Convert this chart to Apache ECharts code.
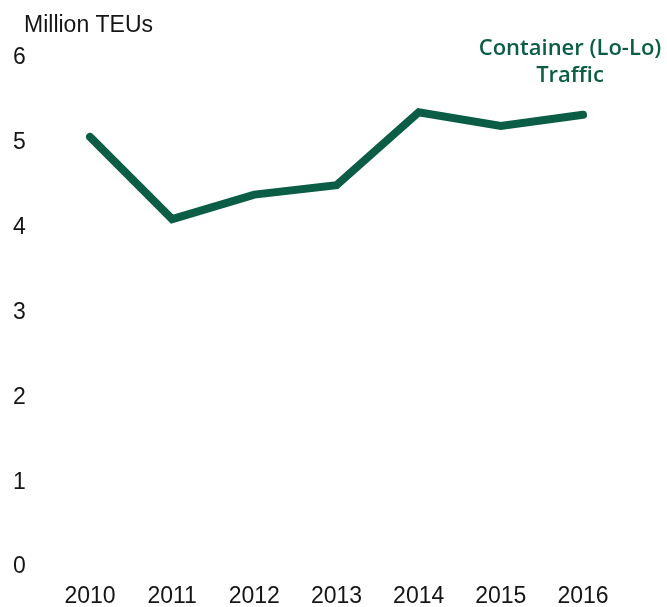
<!DOCTYPE html>
<html>
<head>
<meta charset="utf-8">
<script src="https://cdn.jsdelivr.net/npm/echarts@6/dist/echarts.min.js"></script>
<style>
  html, body { margin: 0; padding: 0; background: #fff; }
  #chart { width: 667px; height: 607px; }
</style>
</head>
<body>
<div id="chart"></div>
<script>
// Container (Lo-Lo) traffic, million TEUs
const years = ['2010', '2011', '2012', '2013', '2014', '2015', '2016'];
const traffic = [5.07, 4.10, 4.39, 4.50, 5.36, 5.20, 5.33];
const yTicks = [0, 1, 2, 3, 4, 5, 6];

const green = '#0b5e45';
const ink = '#151515';

const chart = echarts.init(document.getElementById('chart'));
chart.setOption({
  backgroundColor: '#ffffff',
  animation: false,
  grid: { left: 90, right: 84, top: 58, bottom: 40, outerBoundsMode: 'none', containLabel: false },
  title: [
    {
      text: 'Million TEUs',
      left: 19, top: 9,
      textStyle: { fontFamily: 'Liberation Sans', fontSize: 23, fontWeight: 'normal', color: ink }
    },
    {
      text: 'Container (Lo-Lo)\nTraffic',
      left: 565, top: 30,
      textAlign: 'center',
      textStyle: { fontFamily: 'Open Sans', fontSize: 22, fontWeight: 600, color: green, lineHeight: 27 }
    }
  ],
  xAxis: {
    type: 'category',
    data: years,
    boundaryGap: false,
    axisLine: { show: false },
    axisTick: { show: false },
    axisLabel: { fontFamily: 'Liberation Sans', fontSize: 23, color: ink, margin: 18 }
  },
  yAxis: {
    type: 'value',
    min: yTicks[0],
    max: yTicks[yTicks.length - 1],
    interval: 1,
    splitLine: { show: false },
    axisLine: { show: false },
    axisTick: { show: false },
    axisLabel: { fontFamily: 'Liberation Sans', fontSize: 23, color: ink, align: 'left', margin: 77 }
  },
  series: [{
    type: 'line',
    data: traffic,
    symbol: 'none',
    lineStyle: { color: green, width: 8, cap: 'round', join: 'miter' }
  }]
});
</script>
</body>
</html>
